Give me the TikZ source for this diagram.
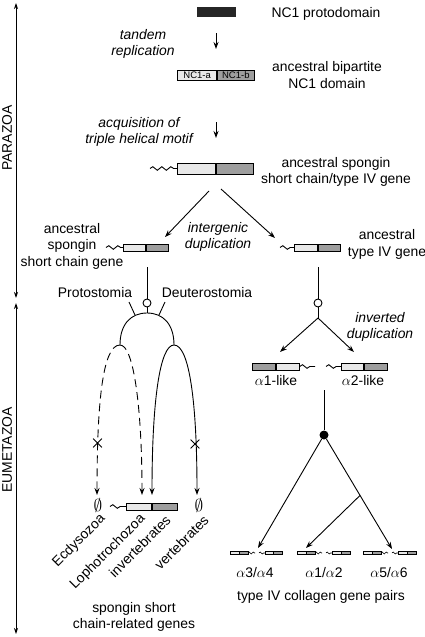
\documentclass[tikz,border=0pt]{standalone}
\usepackage{fontspec}
\setmainfont{Liberation Sans}
\usetikzlibrary{arrows.meta,positioning,calc,shapes.misc,decorations.pathmorphing}
\definecolor{lite}{gray}{0.91}
\definecolor{dark}{gray}{0.62}

\begin{document}
\begin{tikzpicture}[x=1pt,y=-1pt,
	font=\fontsize{13.9}{16.5}\selectfont,
	txt/.style={align=center, inner sep=0pt},
	itxt/.style={txt, font=\fontsize{13.9}{16.5}\selectfont\itshape},
	arr/.style={-{Stealth[length=7pt,width=5pt]}, line width=0.9pt},
	axis/.style={{Stealth[length=6pt,width=4pt]}-{Stealth[length=6pt,width=4pt]}, line width=0.9pt},
	link/.style={line width=0.9pt},
	seg/.style={draw, line width=0.7pt, inner sep=0pt, minimum height=7pt},
	wave/.style={line width=0.9pt, decorate, decoration={snake, amplitude=1.8pt, segment length=9pt, post length=2pt}},
	tiny/.style={line width=0.6pt},
	twave/.style={line width=0.6pt, decorate, decoration={snake, amplitude=1pt, segment length=4pt}},
	opn/.style={circle, draw, line width=0.9pt, fill=white, minimum size=8pt, inner sep=0pt},
	cls/.style={circle, fill=black, minimum size=9pt, inner sep=0pt},
	loss/.style={cross out, draw, line width=0.8pt, minimum size=8pt, inner sep=0pt},
	none/.style={inner sep=0pt, font=\fontsize{18}{18}\selectfont},
	taxon/.style={rotate=45, anchor=east, inner sep=1pt}]
	
	\useasboundingbox (0,0) rectangle (425,637);
	
	% Time axis
	\coordinate (ptop) at (16,3);
	\coordinate (pbot) at (16,298);
	\coordinate (etop) at (16,303);
	\coordinate (ebot) at (16,634);
	\draw[axis] (pbot) -- (ptop);
	\draw[axis] (etop) -- (ebot);
	\node[rotate=90] (para) at (7,138) {PARAZOA};
	\node[rotate=90] (eume) at (7,450) {EUMETAZOA};
	
	% NC1 domain
	\node[fill=black!85, minimum width=39pt, minimum height=10pt, inner sep=0pt] (proto) at (216.5,12) {};
	\node[txt] (protolbl) at (326,14) {NC1 protodomain};
	\coordinate (s1a) at (216,33);
	\coordinate (s1b) at (216,49);
	\draw[arr] (s1a) -- (s1b);
	\node[itxt] (tandem) at (143,44) {tandem\\replication};
	
	\node[seg, fill=lite, minimum width=39pt, minimum height=10pt, anchor=east, font=\fontsize{9.5}{10}\selectfont] (nca) at (217,75) {NC1-a};
	\node[seg, fill=dark, minimum width=37pt, minimum height=10pt, anchor=west, font=\fontsize{9.5}{10}\selectfont] (ncb) at (217,75) {NC1-b};
	\node[txt] (bilbl) at (327,75) {ancestral bipartite\\NC1 domain};
	\coordinate (s2a) at (216,122);
	\coordinate (s2b) at (216,138);
	\draw[arr] (s2a) -- (s2b);
	\node[itxt] (acq) at (139,132) {acquisition of\\triple helical motif};
	
	% ancestral gene
	\node[seg, fill=lite, minimum width=38pt, minimum height=11pt, anchor=east] (anca) at (216,168.5) {};
	\node[seg, fill=dark, minimum width=37pt, minimum height=11pt, anchor=west] (ancb) at (216,168.5) {};
	\coordinate (ancw) at (150,168.5);
	\draw[wave] (ancw) -- (anca.west);
	\node[txt] (anclbl) at (336,172) {ancestral spongin\\short chain/type IV gene};
	
	% Arrows
	\coordinate (dl0) at (209,191);
	\coordinate (dl1) at (165,237);
	\coordinate (dr0) at (221,189);
	\coordinate (dr1) at (275,238);
	\draw[arr] (dl0) -- (dl1);
	\draw[arr] (dr0) -- (dr1);
	\node[itxt] (interg) at (218,237) {intergenic\\duplication};
	
	% spongin short chain gene
	\node[seg, fill=lite, minimum width=22pt, anchor=east] (sca) at (146,247.5) {};
	\node[seg, fill=dark, minimum width=22pt, anchor=west] (scb) at (146,247.5) {};
	\coordinate (scw) at (106,247.5);
	\draw[wave] (scw) -- (sca.west);
	\node[txt] (sclbl) at (72,246) {ancestral\\spongin\\short chain gene};
	
	% type IV gene
	\node[seg, fill=lite, minimum width=23pt, anchor=east] (tva) at (318,247.5) {};
	\node[seg, fill=dark, minimum width=22pt, anchor=west] (tvb) at (318,247.5) {};
	\coordinate (tvw) at (280,247.5);
	\draw[wave] (tvw) -- (tva.west);
	\node[txt] (tvlbl) at (387,244.5) {ancestral\\type IV gene};
	
	% spongin branch
	\coordinate (sc0) at (147,267);
	\node[opn] (oc1) at (147,303) {};
	\coordinate (atop) at (147,313);
	\coordinate (lap) at (120,345);
	\coordinate (rap) at (174,345);
	\draw[link] (sc0) -- (oc1);
	\draw[link] (oc1) -- (atop);
	\draw[link] (lap) .. controls (120,324) and (131,313) .. (atop) .. controls (163,313) and (174,324) .. (rap);
	\draw[link] (129,302) -- (135,315);
	\draw[link] (165,302) -- (159,315);
	\node[txt] (proto) at (95,293) {Protostomia};
	\node[txt] (deut) at (207,293) {Deuterostomia};
	
	\node[seg, fill=lite, minimum width=25pt, anchor=east] (spa) at (152,506.5) {};
	\node[seg, fill=dark, minimum width=25pt, anchor=west] (spb) at (152,506.5) {};
	\coordinate (spw) at (110,506.5);
	\draw[wave] (spw) -- (spa.west);
	\node[none] (nul1) at (98,505) {$\emptyset$};
	\node[none] (nul2) at (199,505) {$\emptyset$};
	
	\coordinate (ecd) at (97,495);
	\coordinate (lop) at (142,495);
	\coordinate (inv) at (152,495);
	\coordinate (ver) at (197,495);
	\draw[arr, dash pattern=on 8pt off 5pt] (lap) .. controls (103,345) and (97,400) .. (ecd);
	\draw[arr, dash pattern=on 8pt off 5pt] (lap) .. controls (134,345) and (142,410) .. (lop);
	\draw[arr] (rap) .. controls (160,345) and (152,400) .. (inv);
	\draw[arr] (rap) .. controls (189,345) and (197,400) .. (ver);
	\node[loss] (x1) at (97.5,443) {};
	\node[loss] (x2) at (195,444) {};
	
	\node[taxon] (ecdy) at (104,516) {Ecdysozoa};
	\node[taxon] (loph) at (144,516) {Lophotrochozoa};
	\node[taxon] (invt) at (169,517) {invertebrates};
	\node[taxon] (vert) at (207,517) {vertebrates};
	\node[txt] (spglbl) at (134,617) {spongin short\\chain-related genes};
	
	% type IV branch
	\coordinate (tv0) at (318,267);
	\node[opn] (oc2) at (318,303) {};
	\coordinate (bif) at (318,318);
	\coordinate (a1e) at (280,352);
	\coordinate (a2e) at (354,352);
	\draw[link] (tv0) -- (oc2);
	\draw[link] (oc2) -- (bif);
	\draw[arr] (bif) -- (a1e);
	\draw[arr] (bif) -- (a2e);
	\node[itxt] (invdup) at (380,327) {inverted\\duplication};
	
	\node[seg, fill=dark, minimum width=23pt, anchor=east] (a1a) at (276,366.5) {};
	\node[seg, fill=lite, minimum width=23pt, anchor=west] (a1b) at (276,366.5) {};
	\coordinate (a1w) at (315,366.5);
	\draw[wave] (a1b.east) -- (a1w);
	\node[seg, fill=lite, minimum width=22pt, anchor=east] (a2a) at (364,366.5) {};
	\node[seg, fill=dark, minimum width=23pt, anchor=west] (a2b) at (364,366.5) {};
	\coordinate (a2w) at (326,366.5);
	\draw[wave] (a2w) -- (a2a.west);
	\node[txt] (a1lbl) at (276,381) {$\alpha$1-like};
	\node[txt] (a2lbl) at (363,381) {$\alpha$2-like};
	
	\coordinate (pr0) at (324,390);
	\node[cls] (dot) at (324,435) {};
	\coordinate (g34) at (258,548);
	\coordinate (g12) at (306,548);
	\coordinate (g56) at (392,549);
	\coordinate (br) at ($(dot)!0.53!(g56)$);
	\draw[link] (pr0) -- (dot);
	\draw[arr] (dot) -- (g34);
	\draw[arr] (dot) -- (g56);
	\draw[arr] (br) -- (g12);
	
	% gene pairs
	\draw[tiny, fill=lite] (230,551.5) rectangle (239,554.5);
	\draw[tiny, fill=dark] (239,551.5) rectangle (248,554.5);
	\draw[twave] (248,553) -- (255,553);
	\draw[twave] (259,553) -- (265,553);
	\draw[tiny, fill=lite] (265,551.5) rectangle (273,554.5);
	\draw[tiny, fill=dark] (273,551.5) rectangle (282,554.5);
	
	\draw[tiny, fill=lite] (297,551.5) rectangle (306,554.5);
	\draw[tiny, fill=dark] (306,551.5) rectangle (315,554.5);
	\draw[twave] (315,553) -- (322,553);
	\draw[twave] (326,553) -- (332,553);
	\draw[tiny, fill=lite] (332,551.5) rectangle (341,554.5);
	\draw[tiny, fill=dark] (341,551.5) rectangle (350,554.5);
	
	\draw[tiny, fill=lite] (363,551.5) rectangle (372,554.5);
	\draw[tiny, fill=dark] (372,551.5) rectangle (381,554.5);
	\draw[twave] (381,553) -- (388,553);
	\draw[twave] (392,553) -- (398,553);
	\draw[tiny, fill=lite] (398,551.5) rectangle (407,554.5);
	\draw[tiny, fill=dark] (407,551.5) rectangle (416,554.5);
	
	\node[txt] (p34) at (255,573) {$\alpha$3/$\alpha$4};
	\node[txt] (p12) at (324,573) {$\alpha$1/$\alpha$2};
	\node[txt] (p56) at (389,573) {$\alpha$5/$\alpha$6};
	\node[txt] (pairlbl) at (321,597) {type IV collagen gene pairs};
	
\end{tikzpicture}
\end{document}
